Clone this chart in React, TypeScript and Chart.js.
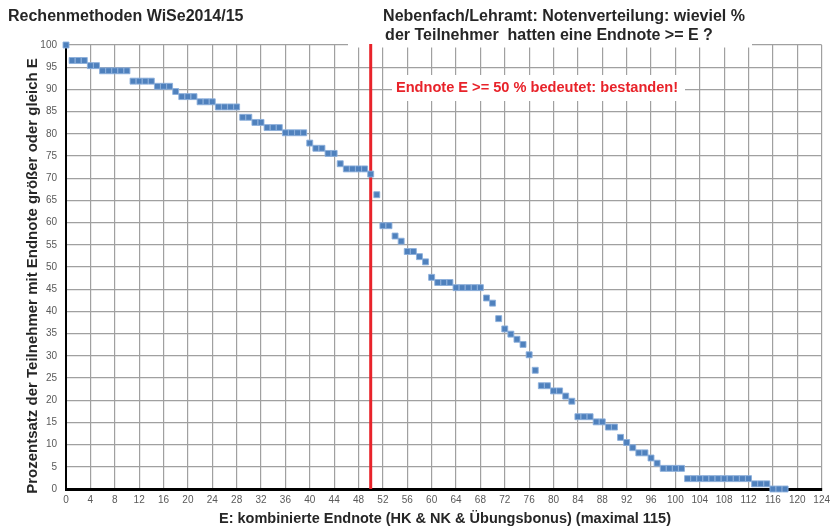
import { useEffect, useRef } from 'react';
import { Chart, registerables } from 'chart.js';

Chart.register(...registerables);

// E: combined final grade (x) and percentage of participants with grade >= E (y)
const grades = [
  0, 1, 2, 3, 4, 5, 6, 7, 8, 9, 10, 11, 12, 13, 14, 15, 16, 17, 18, 19,
  20, 21, 22, 23, 24, 25, 26, 27, 28, 29, 30, 31, 32, 33, 34, 35, 36, 37, 38, 39,
  40, 41, 42, 43, 44, 45, 46, 47, 48, 49, 50, 51, 52, 53, 54, 55, 56, 57, 58, 59,
  60, 61, 62, 63, 64, 65, 66, 67, 68, 69, 70, 71, 72, 73, 74, 75, 76, 77, 78, 79,
  80, 81, 82, 83, 84, 85, 86, 87, 88, 89, 90, 91, 92, 93, 94, 95, 96, 97, 98, 99,
  100, 101, 102, 103, 104, 105, 106, 107, 108, 109, 110, 111, 112, 113, 114, 115, 116, 117, 118,
];

const percentages = [
  100, 96.51, 96.51, 96.51, 95.35, 95.35, 94.19, 94.19, 94.19, 94.19,
  94.19, 91.86, 91.86, 91.86, 91.86, 90.70, 90.70, 90.70, 89.53, 88.37,
  88.37, 88.37, 87.21, 87.21, 87.21, 86.05, 86.05, 86.05, 86.05, 83.72,
  83.72, 82.56, 82.56, 81.40, 81.40, 81.40, 80.23, 80.23, 80.23, 80.23,
  77.91, 76.74, 76.74, 75.58, 75.58, 73.26, 72.09, 72.09, 72.09, 72.09,
  70.93, 66.28, 59.30, 59.30, 56.98, 55.81, 53.49, 53.49, 52.33, 51.16,
  47.67, 46.51, 46.51, 46.51, 45.35, 45.35, 45.35, 45.35, 45.35, 43.02,
  41.86, 38.37, 36.05, 34.88, 33.72, 32.56, 30.23, 26.74, 23.26, 23.26,
  22.09, 22.09, 20.93, 19.77, 16.28, 16.28, 16.28, 15.12, 15.12, 13.95,
  13.95, 11.63, 10.47, 9.30, 8.14, 8.14, 6.98, 5.81, 4.65, 4.65,
  4.65, 4.65, 2.33, 2.33, 2.33, 2.33, 2.33, 2.33, 2.33, 2.33,
  2.33, 2.33, 2.33, 1.16, 1.16, 1.16, 0, 0, 0,
];

const passMark = 50;
const xMin = 0;
const xMax = 124;
const xStep = 4;
const yMin = 0;
const yMax = 100;
const yStep = 5;

const titleLeft = 'Rechenmethoden WiSe2014/15';
const titleRight = [
  'Nebenfach/Lehramt: Notenverteilung: wieviel %',
  'der Teilnehmer  hatten eine Endnote >= E ?',
];
const annotationText = 'Endnote E >= 50 % bedeutet: bestanden!';
const xTitle = 'E: kombinierte Endnote (HK & NK & Übungsbonus) (maximal 115)';
const yTitle = 'Prozentsatz der Teilnehmer mit Endnote größer oder gleich E';

const W = 835;
const H = 531;
const FONT = '"Liberation Sans", Arial, sans-serif';

const overlay = {
  id: 'overlay',
  beforeDatasetsDraw(chart: any) {
    const { ctx, chartArea, scales } = chart;
    ctx.save();
    ctx.fillStyle = '#ffffff';
    ctx.fillRect(348, 0, 404, chartArea.top + 2.5);
    ctx.fillRect(392, 75, 293, 26);
    const x = scales.x.getPixelForValue(passMark);
    ctx.strokeStyle = '#e8232a';
    ctx.lineWidth = 3;
    ctx.beginPath();
    ctx.moveTo(x, chartArea.top - 1);
    ctx.lineTo(x, chartArea.bottom);
    ctx.stroke();
    ctx.restore();
  },
  afterDraw(chart: any) {
    const { ctx } = chart;
    ctx.save();
    ctx.fillStyle = '#262626';
    ctx.font = `bold 16px ${FONT}`;
    ctx.textBaseline = 'middle';
    ctx.textAlign = 'left';
    ctx.fillText(titleLeft, 8, 17);
    ctx.textAlign = 'center';
    ctx.fillText(titleRight[0], 564, 17);
    ctx.fillText(titleRight[1], 549, 36);

    ctx.fillStyle = '#e8232a';
    ctx.font = `bold 14.6px ${FONT}`;
    ctx.fillText(annotationText, 537, 88);

    ctx.fillStyle = '#262626';
    ctx.font = `bold 14.5px ${FONT}`;
    ctx.fillText(xTitle, 445, 519);

    ctx.font = `bold 15px ${FONT}`;
    ctx.translate(33, 276);
    ctx.rotate(-Math.PI / 2);
    ctx.fillText(yTitle, 0, 0);
    ctx.restore();
  },
};

export default function App() {
  const ref = useRef<HTMLCanvasElement>(null);

  useEffect(() => {
    if (!ref.current) return;
    const chart = new Chart(ref.current, {
      type: 'scatter',
      data: {
        datasets: [
          {
            data: grades.map((g, i) => ({ x: g, y: percentages[i] })),
            clip: false,
            pointStyle: 'rect',
            pointRadius: 4.2,
            backgroundColor: '#4f81bd',
            borderColor: 'rgba(140,175,220,0.9)',
            borderWidth: 1,
          },
        ],
      },
      plugins: [overlay],
      options: {
        responsive: false,
        animation: false,
        layout: { padding: { left: 0, top: 45, right: 9, bottom: 0 } },
        plugins: {
          legend: { display: false },
          tooltip: { enabled: false },
          title: { display: false },
        },
        scales: {
          x: {
            type: 'linear',
            min: xMin,
            max: xMax,
            afterFit(scale: any) {
              scale.height = 42;
            },
            ticks: {
              stepSize: xStep,
              color: '#595959',
              font: { family: FONT, size: 10 },
              padding: 5,
              maxRotation: 0,
              autoSkip: false,
            },
            grid: { color: '#a0a0a0', lineWidth: 1.2, drawTicks: false },
            border: { color: '#000000', width: 3 },
          },
          y: {
            type: 'linear',
            min: yMin,
            max: yMax,
            afterFit(scale: any) {
              scale.width = 66;
            },
            ticks: {
              stepSize: yStep,
              color: '#595959',
              font: { family: FONT, size: 10 },
              padding: 9,
              autoSkip: false,
            },
            grid: { color: '#a0a0a0', lineWidth: 1.2, drawTicks: false },
            border: { color: '#000000', width: 2 },
          },
        },
      },
    });
    return () => chart.destroy();
  }, []);

  return (
    <div style={{ position: 'fixed', left: 0, top: 0, width: W, height: H, background: '#fff' }}>
      <canvas ref={ref} width={W} height={H} style={{ display: 'block', width: W, height: H }} />
    </div>
  );
}
